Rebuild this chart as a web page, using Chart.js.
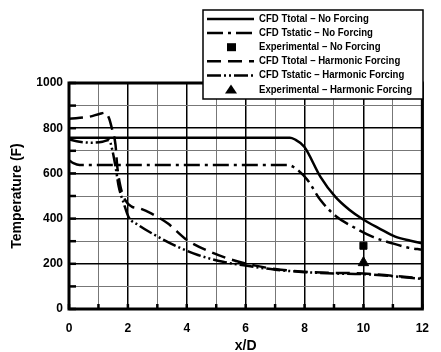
<!DOCTYPE html>
<html>
<head>
<meta charset="utf-8">
<script src="https://cdn.jsdelivr.net/npm/chart.js@4"></script>
<style>
  html, body { margin: 0; padding: 0; background: #fff; }
  #wrap { width: 441px; height: 352px; }
</style>
</head>
<body>
<div id="wrap"><canvas id="chart" width="441" height="352"></canvas></div>
<script>
// --- data ---
const xTicks = [0, 2, 4, 6, 8, 10, 12];
const yTicks = [0, 200, 400, 600, 800, 1000];

const seriesNames = [
    'CFD Ttotal \u2013 No Forcing',
    'CFD Tstatic \u2013 No Forcing',
    'Experimental \u2013 No Forcing',
    'CFD Ttotal \u2013 Harmonic Forcing',
    'CFD Tstatic \u2013 Harmonic Forcing',
    'Experimental \u2013 Harmonic Forcing'
];

const ttotalNoX = [0, 7.5, 7.66, 7.99, 8.54, 9.04, 9.53, 9.98, 10.53, 11.08, 11.6, 12];
const ttotalNoY = [758, 758, 751, 718, 585, 497, 438, 397, 357, 320, 302, 290];

const tstaticNoX = [0, 0.15, 0.36, 7.43, 7.77, 8.1, 8.54, 9.09, 9.64, 10.3, 10.97, 11.5, 12];
const tstaticNoY = [658, 645, 637, 637, 615, 571, 482, 408, 364, 320, 291, 272, 262];

const expNoX = [10];
const expNoY = [280];

const ttotalHarmX = [0, 0.7, 1.03, 1.25, 1.36, 1.47, 1.58, 1.64, 1.75, 1.91, 2.13, 2.41, 2.79, 3.35, 4.01, 4.78, 5.56, 6.33, 7, 8, 9, 10, 11, 12];
const ttotalHarmY = [842, 851, 863, 869, 844, 792, 726, 630, 541, 482, 453, 445, 423, 379, 305, 254, 217, 192, 177, 165, 160, 157, 147, 136];

const tstaticHarmX = [0, 0.36, 0.8, 1.14, 1.36, 1.47, 1.58, 1.69, 1.86, 2.02, 2.35, 3.02, 3.68, 4.38, 5.23, 6.1, 7, 8, 9, 10, 11, 12];
const tstaticHarmY = [750, 740, 736, 740, 748, 704, 630, 541, 468, 408, 372, 320, 276, 239, 209, 190, 174, 163, 157, 154, 145, 133];

const expHarmX = [10];
const expHarmY = [205];

const toPoints = (xs, ys) => xs.map((x, i) => ({ x: x, y: ys[i] }));

// line patterns shared by plot and legend
const dashDot = [16, 5, 3, 5];
const dashed = [14, 7];
const dashDotDot = [14, 3, 2, 3, 2, 3];

const curve = { borderColor: '#000', borderWidth: 2.5, pointRadius: 0, cubicInterpolationMode: 'monotone' };

const datasets = [
    { ...curve, label: seriesNames[0], data: toPoints(ttotalNoX, ttotalNoY) },
    { ...curve, label: seriesNames[1], data: toPoints(tstaticNoX, tstaticNoY), borderDash: dashDot },
    { label: seriesNames[2], data: toPoints(expNoX, expNoY), showLine: false, pointStyle: 'rect', pointRadius: 5, backgroundColor: '#000', borderColor: '#000' },
    { ...curve, label: seriesNames[3], data: toPoints(ttotalHarmX, ttotalHarmY), borderDash: dashed },
    { ...curve, label: seriesNames[4], data: toPoints(tstaticHarmX, tstaticHarmY), borderDash: dashDotDot },
    { label: seriesNames[5], data: toPoints(expHarmX, expHarmY), showLine: false, pointStyle: 'triangle', pointRadius: 6, backgroundColor: '#000', borderColor: '#000' }
];

// frame + inward tick marks
const framePlugin = {
    id: 'frame',
    afterDatasetsDraw(chart) {
        const { ctx, chartArea: a, scales } = chart;
        ctx.save();
        ctx.strokeStyle = '#000';
        ctx.lineWidth = 2.5;
        for (let v = 0; v <= 1000; v += 100) {
            const y = scales.y.getPixelForValue(v);
            ctx.beginPath();
            ctx.moveTo(a.left, y);
            ctx.lineTo(a.left + 7, y);
            ctx.stroke();
        }
        for (let v = 0; v <= 12; v += 1) {
            const x = scales.x.getPixelForValue(v);
            ctx.beginPath();
            ctx.moveTo(x, a.bottom);
            ctx.lineTo(x, a.bottom - 5);
            ctx.stroke();
        }
        ctx.lineWidth = 3;
        ctx.strokeRect(a.left, a.top, a.right - a.left, a.bottom - a.top);
        ctx.restore();
    }
};

// legend box that sits over the top of the plot
const boxLegend = {
    id: 'boxLegend',
    afterDraw(chart) {
        const ctx = chart.ctx;
        const bx = 203, by = 10, bw = 220, bh = 89;
        ctx.save();
        ctx.fillStyle = '#fff';
        ctx.fillRect(bx, by, bw, bh);
        ctx.strokeStyle = '#000';
        ctx.lineWidth = 1.5;
        ctx.strokeRect(bx, by, bw, bh);

        ctx.font = 'bold 11px "Liberation Sans", Arial, sans-serif';
        const sx = 153 / ctx.measureText(seriesNames[5]).width;
        const patterns = [[], dashDot, null, dashed, dashDotDot, null];
        seriesNames.forEach((name, i) => {
            const y = 19 + i * 14.1;
            ctx.strokeStyle = '#000';
            ctx.fillStyle = '#000';
            if (i === 2) {
                ctx.fillRect(227, y - 4, 9, 8);
            } else if (i === 5) {
                ctx.beginPath();
                ctx.moveTo(231, y - 5);
                ctx.lineTo(237, y + 4);
                ctx.lineTo(225, y + 4);
                ctx.closePath();
                ctx.fill();
            } else {
                ctx.lineWidth = 2.5;
                ctx.setLineDash(patterns[i]);
                ctx.beginPath();
                ctx.moveTo(207, y);
                ctx.lineTo(254, y);
                ctx.stroke();
                ctx.setLineDash([]);
            }
            ctx.save();
            ctx.translate(259, y);
            ctx.scale(sx, 1);
            ctx.textBaseline = 'middle';
            ctx.textAlign = 'left';
            ctx.fillText(name, 0, 0);
            ctx.restore();
        });
        ctx.restore();
    }
};

const tickFont = { family: '"Liberation Sans", Arial, sans-serif', size: 12, weight: 'bold' };
const titleFont = { family: '"Liberation Sans", Arial, sans-serif', size: 14, weight: 'bold' };

new Chart(document.getElementById('chart'), {
    type: 'line',
    data: { datasets: datasets },
    options: {
        responsive: false,
        devicePixelRatio: 1,
        animation: false,
        layout: { padding: { top: 83, right: 10, left: 0, bottom: 0 } },
        plugins: { legend: { display: false }, tooltip: { enabled: false } },
        scales: {
            x: {
                type: 'linear',
                min: 0, max: 12,
                afterFit: (s) => { s.height = 43; },
                afterBuildTicks: (s) => { s.ticks = Array.from({ length: 13 }, (_, i) => ({ value: i })); },
                grid: {
                    drawTicks: false,
                    color: (c) => (c.tick.value % 2 === 0 ? '#000' : '#777'),
                    lineWidth: (c) => (c.tick.value % 2 === 0 ? 1.5 : 1)
                },
                border: { display: false },
                ticks: {
                    color: '#000', font: tickFont, padding: 12, maxRotation: 0, autoSkip: false,
                    callback: (v) => (xTicks.includes(v) ? String(v) : '')
                },
                title: { display: true, text: 'x/D', color: '#000', font: titleFont, padding: { top: 0, bottom: -3 } }
            },
            y: {
                min: 0, max: 1000,
                afterFit: (s) => { s.width = 69; },
                afterBuildTicks: (s) => { s.ticks = Array.from({ length: 11 }, (_, i) => ({ value: i * 100 })); },
                grid: {
                    drawTicks: false,
                    color: (c) => (c.tick.value % 200 === 0 ? '#000' : '#777'),
                    lineWidth: (c) => (c.tick.value % 200 === 0 ? 1.5 : 1)
                },
                border: { display: false },
                ticks: {
                    color: '#000', font: tickFont, padding: 6, autoSkip: false,
                    callback: (v) => (yTicks.includes(v) ? String(v) : '')
                },
                title: { display: true, text: 'Temperature (F)', color: '#000', font: titleFont, padding: { top: 9, bottom: 0 } }
            }
        }
    },
    plugins: [framePlugin, boxLegend]
});
</script>
</body>
</html>
